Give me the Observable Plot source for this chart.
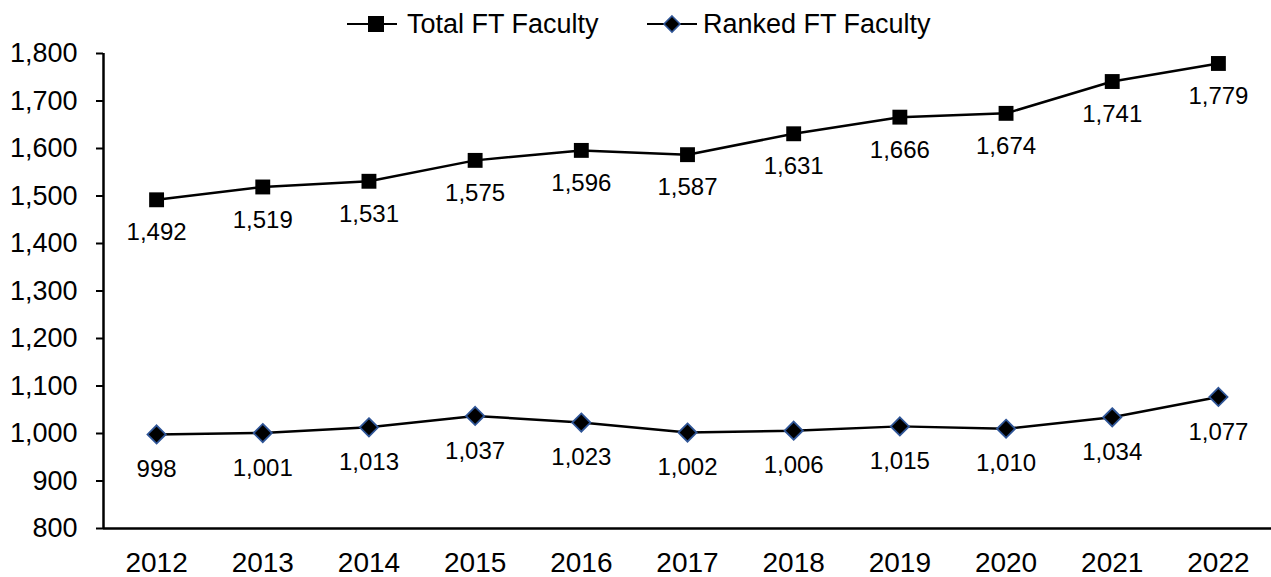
<!DOCTYPE html>
<html>
<head>
<meta charset="utf-8">
<script src="https://cdn.jsdelivr.net/npm/d3@7"></script>
<script src="https://cdn.jsdelivr.net/npm/@observablehq/plot@0.6"></script>
<style>
  body { margin: 0; background: #fff; font-family: "Liberation Sans", Arial, sans-serif; }
  #legend { position: relative; height: 34px; width: 1271px; overflow: visible; z-index: 1; }
  .item { position: absolute; top: 0; height: 48px; display: flex; align-items: center; font-size: 27px; color: #000; white-space: nowrap; }
  .item svg { margin-right: 10px; }
  #chart svg { background: transparent; }
</style>
</head>
<body>
<div id="legend">
  <div class="item" style="left:347px">
    <svg width="50" height="20"><line x1="0" y1="10" x2="50" y2="10" stroke="#000" stroke-width="2.2"/><rect x="21" y="2" width="16" height="16" fill="#000"/></svg>Total FT Faculty
  </div>
  <div class="item" style="left:647px">
    <svg width="50" height="20" style="margin-right:6px"><line x1="0" y1="10" x2="50" y2="10" stroke="#000" stroke-width="2.2"/><path d="M25,2 L33,10 L25,18 L17,10 Z" fill="#000" stroke="#2F5597" stroke-width="1.6"/></svg>Ranked FT Faculty
  </div>
</div>
<div id="chart"></div>
<script>
const years = [2012, 2013, 2014, 2015, 2016, 2017, 2018, 2019, 2020, 2021, 2022];
const totalFT = [1492, 1519, 1531, 1575, 1596, 1587, 1631, 1666, 1674, 1741, 1779];
const rankedFT = [998, 1001, 1013, 1037, 1023, 1002, 1006, 1015, 1010, 1034, 1077];
const yTicks = [800, 900, 1000, 1100, 1200, 1300, 1400, 1500, 1600, 1700, 1800];

const total = years.map((y, i) => ({year: y, value: totalFT[i]}));
const ranked = years.map((y, i) => ({year: y, value: rankedFT[i]}));
const fmt = d3.format(",");

const chart = Plot.plot({
  width: 1271,
  height: 543,
  marginTop: 19,
  marginBottom: 49,
  marginLeft: 103,
  marginRight: 0,
  style: {fontFamily: "'Liberation Sans', Arial, sans-serif", background: "transparent", color: "#000"},
  x: {domain: [2011.5, 2022.5]},
  y: {domain: [800, 1800]},
  marks: [
    Plot.axisY({ticks: yTicks, tickFormat: fmt, tickSize: 7, tickPadding: 19, fontSize: 27, strokeWidth: 2, label: null}),
    Plot.axisX({ticks: years, tickFormat: d => String(d), tickSize: 0, tickPadding: 24, fontSize: 28, label: null}),
    Plot.ruleY([800], {stroke: "#000", strokeWidth: 2.5}),
    Plot.ruleX([2011.5], {y1: 800, y2: 1800, stroke: "#000", strokeWidth: 2.5}),
    Plot.line(total, {x: "year", y: "value", stroke: "#000", strokeWidth: 2.5}),
    Plot.line(ranked, {x: "year", y: "value", stroke: "#000", strokeWidth: 2.5}),
    Plot.dot(total, {x: "year", y: "value", symbol: "square", r: 8.4, fill: "#000", stroke: "none"}),
    Plot.dot(ranked, {x: "year", y: "value", symbol: "diamond2", r: 8.2, fill: "#000", stroke: "#2F5597", strokeWidth: 1.8}),
    Plot.text(total, {x: "year", y: "value", text: d => fmt(d.value), dy: 33, fontSize: 24, fill: "#000"}),
    Plot.text(ranked, {x: "year", y: "value", text: d => fmt(d.value), dy: 35, fontSize: 24, fill: "#000"})
  ]
});
document.getElementById("chart").appendChild(chart);
</script>
</body>
</html>
